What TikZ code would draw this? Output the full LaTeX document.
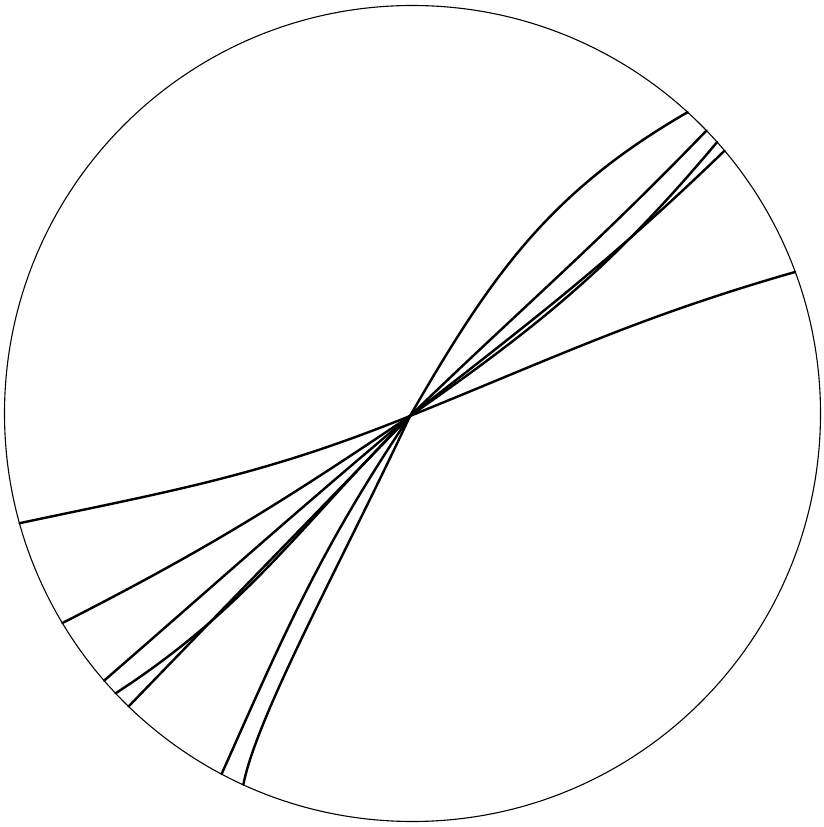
\documentclass[tikz,border=0pt]{standalone}
\usetikzlibrary{calc}
\begin{document}
\begin{tikzpicture}[x=1pt,y=1pt,
    rim/.style={line width=1.1pt},
    trace/.style={line width=2.4pt, line cap=round}]
\useasboundingbox (0,0) rectangle (824,827);
\coordinate (o) at (412.5,413.5);
\coordinate (p) at (410,411);
\draw[rim] (o) circle[radius=408];

% end points on the rim
\foreach \n/\a in {e1/195.6, f1/20.3, e2/245.5, f2/47.6, e3/210.9, e4/220.9,
    e5/223.3, e6/225.9, e7/242.1, f3/43.9, f4/41.7, f5/40.1}
  \coordinate (\n) at ([shift={(\a:408)}]o);

% traces through the common point
\draw[trace] (e1) to[out=12,in=202] (p) to[out=22,in=196] (f1);
\draw[trace] (e2) to[out=79,in=245,out looseness=0.45] (p) to[out=60,in=210] (f2);
\draw[trace] (e3) to[out=27,in=214] (p);
\draw[trace] (e4) to[out=41,in=220] (p) to[out=44,in=226] (f3);
\draw[trace] (e5) to[out=33,in=225] (p) to[out=35,in=230] (f4);
\draw[trace] (e6) to[out=46,in=226] (p) to[out=38,in=224] (f5);
\draw[trace] (e7) to[out=66,in=236] (p);
\end{tikzpicture}
\end{document}
